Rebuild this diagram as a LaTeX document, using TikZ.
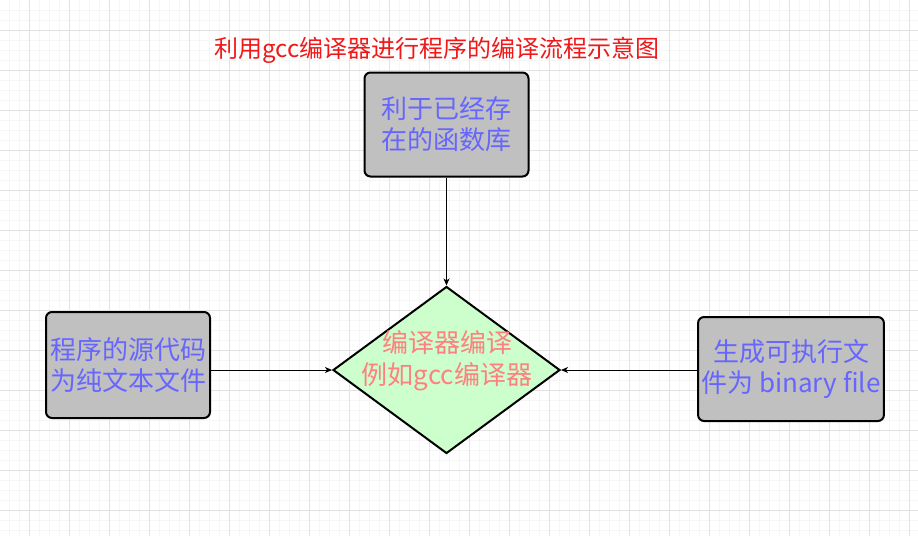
\documentclass[tikz,border=0pt]{standalone}
\usepackage{fontspec}
\setmainfont{Noto Sans CJK SC}
\usetikzlibrary{arrows.meta,shapes.geometric}
\definecolor{boxgray}{HTML}{C0C0C0}
\definecolor{boxtext}{HTML}{6666FF}
\definecolor{diafill}{HTML}{CCFFCC}
\definecolor{diatext}{HTML}{FF8080}
\definecolor{titlered}{HTML}{F01818}
\definecolor{gridmajor}{HTML}{E2E2E2}
\definecolor{gridminor}{HTML}{F6F6F6}

\begin{document}
\begin{tikzpicture}[x=1pt,y=-1pt]
\tikzset{
  stepbox/.style={rectangle,draw,line width=2pt,rounded corners=6pt,fill=boxgray,text=boxtext,
    minimum width=164pt,minimum height=104pt,align=center,font=\fontsize{26}{31}\selectfont},
  decision/.style={diamond,draw,line width=2pt,fill=diafill,minimum width=227pt,minimum height=167pt,inner sep=0pt},
  directed/.style={-{Stealth[length=7pt,width=6pt,inset=2pt]},line width=1pt}
}
\useasboundingbox (0,0) rectangle (918,536);
\fill[white] (0,0) rectangle (918,536);
% background grid
\foreach \x in {9,19,...,918} \draw[gridminor,line width=1pt] (\x,0) -- (\x,536);
\foreach \y in {10,20,...,536} \draw[gridminor,line width=1pt] (0,\y) -- (918,\y);
\foreach \x in {29,69,...,918} \draw[gridmajor,line width=1pt] (\x,0) -- (\x,536);
\foreach \y in {30,70,...,536} \draw[gridmajor,line width=1pt] (0,\y) -- (918,\y);

\node[text=titlered,font=\fontsize{24}{28}\selectfont] (n_title) at (437,50) {利用gcc编译器进行程序的编译流程示意图};
\node[stepbox] (n_lib) at (446.5,124.5) {利于已经存\\在的函数库};
\node[stepbox,minimum height=106pt] (n_src) at (128,365) {程序的源代码\\为纯文本文件};
\node[stepbox,minimum width=184pt] (n_out) at (791,369) {生成可执行文\\件为 binary file};
\node[decision] (n_dia) at (446.5,370) {};
\node[text=diatext,align=center,font=\fontsize{26}{32}\selectfont] (n_diatext) at (447,361) {编译器编译\\例如gcc编译器};
\draw[directed] (n_lib) -- (n_dia.north);
\draw[directed] (n_src.east |- n_dia.west) -- (n_dia.west);
\draw[directed] (n_out.west |- n_dia.east) -- (n_dia.east);
\end{tikzpicture}
\end{document}
